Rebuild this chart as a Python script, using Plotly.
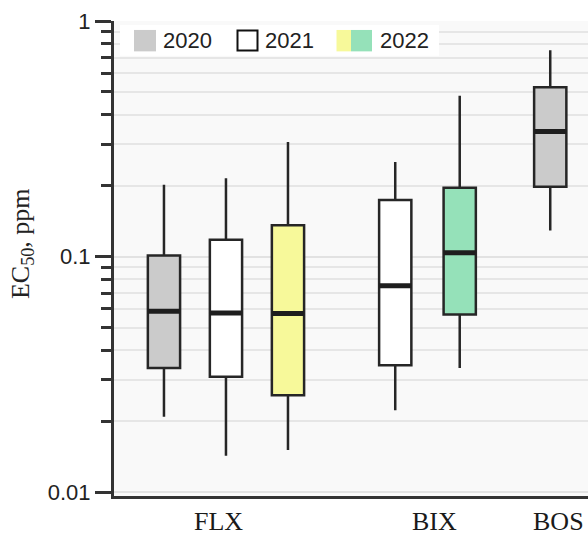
import plotly.graph_objects as go

# ---------------- data ----------------
categories = ["FLX", "BIX", "BOS"]
years = ["2020", "2021", "2022"]

# five-number summaries per year, aligned with categories (None = absent)
lower_2020 = [0.0209, None, 0.129]
q1_2020 = [0.0337, None, 0.198]
median_2020 = [0.0587, None, 0.340]
q3_2020 = [0.101, None, 0.523]
upper_2020 = [0.202, None, 0.752]

lower_2021 = [0.0143, 0.0223, None]
q1_2021 = [0.0309, 0.0346, None]
median_2021 = [0.0577, 0.0753, None]
q3_2021 = [0.1178, 0.1738, None]
upper_2021 = [0.215, 0.252, None]

lower_2022 = [0.0151, 0.0337, None]
q1_2022 = [0.0258, 0.0568, None]
median_2022 = [0.0573, 0.1038, None]
q3_2022 = [0.1358, 0.196, None]
upper_2022 = [0.3066, 0.482, None]

y_tick_vals = [0.01, 0.1, 1]
y_tick_text = ["0.01", "0.1", "1"]
y_title = "EC<sub>50</sub>, ppm"

# ---------------- layout / style ----------------
W, H = 588, 536
ML, MR, MT, MB = 114, 0, 21, 38
# slot positions of each box along x (layout)
slot = {
    ("FLX", "2020"): 0.0, ("FLX", "2021"): 1.0, ("FLX", "2022"): 2.0,
    ("BIX", "2021"): 3.73, ("BIX", "2022"): 4.77,
    ("BOS", "2020"): 6.23,
}
label_slot = {"FLX": 0.88, "BIX": 4.36, "BOS": 6.36}
x_range = [-0.806, 6.839]
box_w = 0.52
fill = {
    ("2020", "FLX"): "#cbcbcb", ("2020", "BOS"): "#cbcbcb",
    ("2021", "FLX"): "#ffffff", ("2021", "BIX"): "#ffffff",
    ("2022", "FLX"): "#f7f99a", ("2022", "BIX"): "#95e1b9",
}
legend_fill_2020 = "#cbcbcb"
legend_fill_2021 = "#ffffff"
legend_fill_2022 = ["#f7f99a", "#95e1b9"]
edge = "#262626"

stats = {
    "2020": (lower_2020, q1_2020, median_2020, q3_2020, upper_2020),
    "2021": (lower_2021, q1_2021, median_2021, q3_2021, upper_2021),
    "2022": (lower_2022, q1_2022, median_2022, q3_2022, upper_2022),
}

fig = go.Figure()
for yr in years:
    lo, a, m, b, hi = stats[yr]
    for i, cat in enumerate(categories):
        if m[i] is None:
            continue
        xpos = slot[(cat, yr)]
        fig.add_trace(go.Box(
            x=[xpos], lowerfence=[lo[i]], q1=[a[i]], median=[m[i]],
            q3=[b[i]], upperfence=[hi[i]],
            width=box_w, whiskerwidth=0, boxpoints=False,
            fillcolor=fill[(yr, cat)],
            line=dict(color=edge, width=2.5),
            showlegend=False, hoverinfo="skip",
        ))
        # thicker median bar
        fig.add_trace(go.Scatter(
            x=[xpos - box_w / 2, xpos + box_w / 2], y=[m[i], m[i]],
            mode="lines", line=dict(color="#1e1e1e", width=5),
            showlegend=False, hoverinfo="skip",
        ))

minor_vals = [k * d for d in (0.01, 0.1) for k in range(2, 10)]

fig.update_layout(
    width=W, height=H,
    margin=dict(l=ML, r=MR, t=MT, b=MB),
    paper_bgcolor="white", plot_bgcolor="#f9f9f9",
    showlegend=False,
    xaxis=dict(
        range=x_range, showgrid=False, zeroline=False,
        showline=True, linecolor="#333333", linewidth=3,
        tickmode="array",
        tickvals=[label_slot[c] for c in categories], ticktext=categories,
        ticks="", tickfont=dict(family="Liberation Serif", size=26, color="#1a1a1a"),
    ),
    yaxis=dict(
        type="log", range=[-2.016, 0],
        showline=True, linecolor="#333333", linewidth=3,
        tickmode="array", tickvals=y_tick_vals, ticktext=y_tick_text,
        ticks="outside", ticklen=16, tickwidth=3, tickcolor="#333333",
        tickfont=dict(family="Liberation Sans", size=22, color="#222222"),
        showgrid=True, gridcolor="#e2e2e2", gridwidth=1.5, zeroline=False,
        minor=dict(tickmode="array", tickvals=minor_vals, ticks="outside",
                   ticklen=10, tickwidth=3, tickcolor="#333333",
                   showgrid=True, gridcolor="#e6e6e6", gridwidth=1.5),
    ),
)

PW = W - ML - MR
PH = H - MT - MB


def px(xp):
    return (xp - ML) / PW


def py(yp):
    return (H - MB - yp) / PH


shapes = []
annotations = []
# legend background
shapes.append(dict(type="rect", xref="paper", yref="paper",
                   x0=px(120), x1=px(439), y0=py(56), y1=py(25),
                   fillcolor="white", line=dict(width=0), layer="above"))
# legend swatches
shapes.append(dict(type="rect", xref="paper", yref="paper",
                   x0=px(134), x1=px(156), y0=py(51.5), y1=py(30),
                   fillcolor=legend_fill_2020, line=dict(width=0), layer="above"))
shapes.append(dict(type="rect", xref="paper", yref="paper",
                   x0=px(237.5), x1=px(257.5), y0=py(50.5), y1=py(30.5),
                   fillcolor=legend_fill_2021, line=dict(width=2, color="#111111"),
                   layer="above"))
shapes.append(dict(type="rect", xref="paper", yref="paper",
                   x0=px(336.5), x1=px(351), y0=py(51.5), y1=py(30),
                   fillcolor=legend_fill_2022[0], line=dict(width=0), layer="above"))
shapes.append(dict(type="rect", xref="paper", yref="paper",
                   x0=px(351), x1=px(372), y0=py(51.5), y1=py(30),
                   fillcolor=legend_fill_2022[1], line=dict(width=0), layer="above"))
for yr, xl in zip(years, [161, 263, 378]):
    annotations.append(dict(text=yr, xref="paper", yref="paper",
                            x=px(xl), y=py(41), xanchor="left", yanchor="middle",
                            showarrow=False,
                            font=dict(family="Liberation Sans", size=22, color="#222222")))
annotations.append(dict(text=y_title, xref="paper", yref="paper",
                        x=px(22), y=py(245), xanchor="center", yanchor="middle",
                        textangle=-90, showarrow=False,
                        font=dict(family="Liberation Serif", size=26, color="#222222")))
fig.update_layout(shapes=shapes, annotations=annotations)

fig.write_html(
    "out.html",
    config={"displayModeBar": False},
    post_script="document.body.style.margin='0';document.body.style.overflow='hidden';",
)
